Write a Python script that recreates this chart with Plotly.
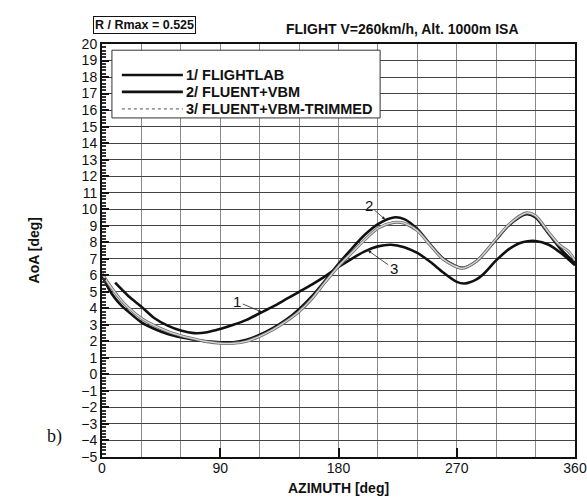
import plotly.graph_objects as go

# Angle of attack vs azimuth at R/Rmax = 0.525
az_flightlab = [10, 20, 30, 40, 50, 60, 70, 80, 90, 100, 110, 120, 130, 140, 150, 160, 170,
                180, 190, 200, 210, 220, 230, 240, 250, 260, 270, 276, 285, 290, 300, 310,
                320, 330, 340, 350, 360]
aoa_flightlab = [5.55, 4.75, 4.1, 3.4, 2.95, 2.65, 2.5, 2.55, 2.75, 3.0, 3.3, 3.7, 4.1, 4.55,
                 5.0, 5.45, 5.95, 6.5, 7.0, 7.45, 7.75, 7.85, 7.7, 7.35, 6.8, 6.15, 5.6, 5.5,
                 5.75, 6.05, 6.9, 7.6, 8.0, 8.08, 7.85, 7.3, 6.6]

az_fluent = [0, 5, 10, 15, 20, 30, 40, 50, 60, 70, 80, 90, 100, 110, 120, 130, 140, 150, 160,
             170, 180, 190, 200, 210, 222, 230, 240, 250, 260, 274, 285, 290, 300, 310, 323,
             330, 340, 350, 360]
aoa_fluent = [6.0, 5.2, 4.6, 4.15, 3.8, 3.15, 2.75, 2.45, 2.25, 2.1, 2.0, 1.95, 1.95, 2.1,
              2.4, 2.8, 3.3, 3.95, 4.75, 5.7, 6.7, 7.6, 8.45, 9.1, 9.5, 9.4, 8.8, 7.85, 7.0,
              6.45, 6.85, 7.25, 8.15, 9.05, 9.7, 9.5, 8.5, 7.5, 6.75]

az_trimmed = [0, 5, 10, 15, 20, 30, 40, 50, 60, 70, 80, 90, 100, 110, 120, 130, 140, 150,
              160, 170, 180, 190, 200, 210, 222, 230, 240, 250, 260, 274, 285, 290, 300, 310,
              323, 330, 340, 348, 355, 360]
aoa_trimmed = [6.1, 5.5, 4.95, 4.45, 4.05, 3.4, 2.95, 2.6, 2.35, 2.15, 1.98, 1.88, 1.88, 2.0,
               2.3, 2.7, 3.2, 3.8, 4.6, 5.6, 6.55, 7.35, 8.15, 8.85, 9.2, 9.15, 8.7, 7.8, 6.95,
               6.42, 6.85, 7.25, 8.2, 9.1, 9.78, 9.6, 8.6, 7.85, 7.45, 6.9]

series_names = ["1/ FLIGHTLAB", "2/ FLUENT+VBM", "3/ FLUENT+VBM-TRIMMED"]
x_ticks = [0, 90, 180, 270, 360]
y_ticks = list(range(-5, 21))

FONT = "Liberation Sans, Arial, sans-serif"
BLACK_LINE = dict(color="#111111", width=2.6, shape="spline", smoothing=0.8)

fig = go.Figure()

fig.add_trace(go.Scatter(x=az_flightlab, y=aoa_flightlab, mode="lines", name=series_names[0],
                         line=BLACK_LINE, showlegend=False))
fig.add_trace(go.Scatter(x=az_fluent, y=aoa_fluent, mode="lines", name=series_names[1],
                         line=BLACK_LINE, showlegend=False))
# trimmed case: dark outline with a light core
fig.add_trace(go.Scatter(x=az_trimmed, y=aoa_trimmed, mode="lines", showlegend=False,
                         hoverinfo="skip",
                         line=dict(color="#6e6e6e", width=3.0, shape="spline", smoothing=0.8)))
fig.add_trace(go.Scatter(x=az_trimmed, y=aoa_trimmed, mode="lines", name=series_names[2],
                         showlegend=False,
                         line=dict(color="#d6d6d6", width=1.3, shape="spline", smoothing=0.8)))

# curve labels with leader arrows
labels = [("1", 121.5, 3.78, 103, 4.4), ("2", 215.5, 9.38, 203, 10.25),
          ("3", 202.5, 7.5, 222, 6.4)]
for txt, x, y, ax, ay in labels:
    fig.add_annotation(x=x, y=y, ax=ax, ay=ay, xref="x", yref="y", axref="x", ayref="y",
                       text=txt, showarrow=True, arrowhead=2, arrowsize=0.8, arrowwidth=0.8,
                       arrowcolor="#222", standoff=0,
                       font=dict(family=FONT, size=15, color="#111"))

# legend: frame, line samples and entry texts
fig.add_shape(type="rect", xref="paper", yref="paper", x0=0.021, x1=0.588, y0=0.821, y1=0.985,
              fillcolor="white", line=dict(color="#333", width=1), layer="above")
legend_rows = [0.925, 0.884, 0.843]
legend_styles = [dict(color="#111", width=2.6), dict(color="#111", width=2.6),
                 dict(color="#9a9a9a", width=1.6, dash="dot")]
for name, yrow, sty in zip(series_names, legend_rows, legend_styles):
    fig.add_shape(type="line", xref="paper", yref="paper", x0=0.042, x1=0.171, y0=yrow,
                  y1=yrow, line=sty, layer="above")
    fig.add_annotation(text=name, xref="paper", yref="paper", x=0.173, y=yrow,
                       showarrow=False, xanchor="left", yanchor="middle",
                       font=dict(family=FONT, size=14.5, color="#111", weight="bold"))

fig.add_annotation(text="FLIGHT V=260km/h, Alt. 1000m ISA", xref="paper", yref="paper",
                   x=0.636, y=1.036, showarrow=False, xanchor="center", yanchor="middle",
                   font=dict(family=FONT, size=14, color="#111", weight="bold"))
fig.add_annotation(text="R / Rmax = 0.525", xref="paper", yref="paper",
                   x=-0.02, y=1.045, showarrow=False, xanchor="left", yanchor="middle",
                   bordercolor="#111", borderwidth=1, borderpad=1, bgcolor="white",
                   font=dict(family=FONT, size=12.5, color="#111", weight="bold"))
fig.add_annotation(text="b)", xref="paper", yref="paper", x=-0.08, y=0.05,
                   showarrow=False, xanchor="right", yanchor="middle",
                   font=dict(family="Liberation Serif, Times New Roman, serif", size=18,
                             color="#111"))
# axis titles
fig.add_annotation(text="AZIMUTH [deg]", xref="paper", yref="paper", x=0.5, y=-0.074,
                   showarrow=False, xanchor="center", yanchor="middle",
                   font=dict(family=FONT, size=14, color="#111", weight="bold"))
fig.add_annotation(text="AoA [deg]", xref="paper", yref="paper", x=-0.144, y=0.5,
                   showarrow=False, xanchor="center", yanchor="middle", textangle=-90,
                   font=dict(family=FONT, size=14, color="#111", weight="bold"))

fig.update_layout(
    width=587, height=497,
    margin=dict(l=102, r=12, t=44, b=40),
    paper_bgcolor="white", plot_bgcolor="white",
    font=dict(family=FONT, size=13, color="#111"),
    showlegend=False,
    xaxis=dict(range=[0, 360], tickvals=x_ticks, ticks="inside", ticklen=9, tickwidth=1.5,
               tickcolor="#111", showgrid=True, gridcolor="#8a8a8a", gridwidth=1,
               minor=dict(dtick=30, showgrid=True, gridcolor="#8a8a8a", gridwidth=1,
                          ticks=""),
               showline=True, linecolor="#111", linewidth=2, mirror=True, zeroline=False,
               automargin=False, ticklabelstandoff=-3,
               tickfont=dict(family=FONT, size=14, color="#111")),
    yaxis=dict(range=[-5, 20], tickvals=y_ticks, ticks="inside", ticklen=7, tickwidth=1.5,
               tickcolor="#111", showgrid=True, gridcolor="#444", gridwidth=1,
               minor=dict(dtick=0.2, ticks="inside", ticklen=4, tickcolor="#333",
                          showgrid=False),
               showline=True, linecolor="#111", linewidth=2, mirror=True, zeroline=False,
               automargin=False,
               tickfont=dict(family=FONT, size=14, color="#111")),
)

fig.write_html("out.html")
